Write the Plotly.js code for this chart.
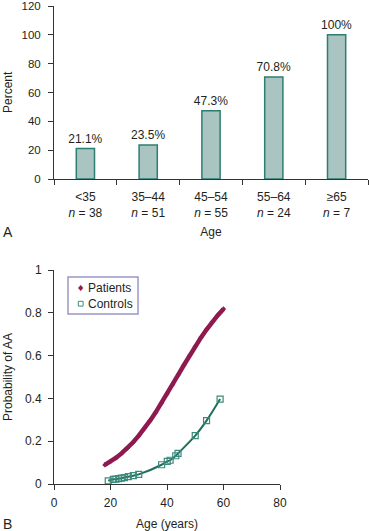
<!DOCTYPE html>
<html>
<head>
<meta charset="utf-8">
<script src="https://cdn.plot.ly/plotly-3.0.1.min.js"></script>
<style>html,body{margin:0;padding:0;background:#fff;}#chart{width:369px;height:531px;}</style>
</head>
<body>
<div id="chart"></div>
<script>
// Panel A: percent by age group
const ageGroups = ["<35", "35–44", "45–54", "55–64", "≥65"];
const groupN = [38, 51, 55, 24, 7];
const percentValues = [21.1, 23.5, 47.3, 70.8, 100];
const percentLabels = ["21.1%", "23.5%", "47.3%", "70.8%", "100%"];
const percentTicks = [0, 20, 40, 60, 80, 100, 120];

// Panel B: probability of AA by age
const patientAges = [18, 20, 22, 24, 26, 28, 30, 32, 34, 36, 38, 40, 42, 44, 46, 48, 50, 52, 54, 56, 58, 60];
const patientProb = [0.089, 0.105, 0.123, 0.144, 0.168, 0.195, 0.226, 0.259, 0.296, 0.335, 0.377, 0.420, 0.465, 0.511, 0.556, 0.601, 0.643, 0.684, 0.722, 0.757, 0.789, 0.818];
const controlAges = [19.2, 21.0, 21.9, 22.9, 23.8, 24.9, 26.3, 28.1, 30.0, 38.1, 40.1, 41.1, 43.1, 43.9, 50.0, 54.0, 58.8];
const controlProb = [0.015, 0.022, 0.023, 0.025, 0.027, 0.030, 0.034, 0.039, 0.045, 0.090, 0.106, 0.111, 0.132, 0.143, 0.226, 0.296, 0.397];
const legendNames = ["Patients", "Controls"];

const catLabels = ageGroups.map((g, i) => g + "<br><i>n</i> = " + groupN[i]);

const textColor = "#231f20";
const patientColor = "#8e1a4f";
const controlLine = "#1f6e5e";
const controlMarker = "#3c8a7c";
const font = {family: "Liberation Sans, Arial, sans-serif", size: 12, color: textColor};
const smallFont = {family: font.family, size: 11.5, color: textColor};

const traces = [
  {
    type: "bar", x: catLabels, y: percentValues, text: percentLabels,
    textposition: "outside", cliponaxis: false, constraintext: "none",
    textfont: {family: font.family, size: 12, color: textColor},
    marker: {color: "#a9c4c1", line: {color: "#2e7d72", width: 1.5}},
    width: 0.29, xaxis: "x", yaxis: "y", showlegend: false, hoverinfo: "skip"
  },
  {
    type: "scatter", mode: "lines+markers", name: legendNames[0], x: patientAges, y: patientProb,
    line: {color: patientColor, width: 4.5},
    marker: {symbol: "diamond", size: 4, color: patientColor},
    xaxis: "x2", yaxis: "y2", showlegend: false
  },
  {
    type: "scatter", mode: "lines+markers", name: legendNames[1], x: controlAges, y: controlProb,
    line: {color: controlLine, width: 2, shape: "spline"},
    marker: {symbol: "square-open", size: 6, color: controlMarker, line: {width: 1.2}},
    xaxis: "x2", yaxis: "y2", showlegend: false
  }
];

const W = 369, H = 531;
const px = v => v / W, py = v => 1 - v / H;

const axisCommon = {
  tickcolor: "#333", showline: true, linecolor: "#333", linewidth: 1,
  showgrid: false, zeroline: false
};

const layout = {
  width: W, height: H,
  margin: {l: 0, r: 0, t: 0, b: 0},
  paper_bgcolor: "#fff", plot_bgcolor: "#fff",
  font: font,
  showlegend: false,
  xaxis: Object.assign({}, axisCommon, {
    domain: [px(54), px(368)], anchor: "y",
    type: "category", tickson: "boundaries", ticks: "outside", ticklen: 5,
    tickfont: font, ticklabelstandoff: 7,
    title: {text: "Age", font: font, standoff: 8}
  }),
  yaxis: Object.assign({}, axisCommon, {
    domain: [py(179), py(6)], anchor: "x",
    range: [0, 120], tickvals: percentTicks, ticks: "outside", ticklen: 5,
    tickfont: smallFont, ticklabeloverflow: "allow", ticklabelstandoff: 5
  }),
  xaxis2: Object.assign({}, axisCommon, {
    domain: [px(54), px(280)], anchor: "y2",
    range: [0, 80], dtick: 20, ticks: "outside", ticklen: 5,
    tickfont: font, ticklabelstandoff: 3,
    title: {text: "Age (years)", font: font, standoff: 10}
  }),
  yaxis2: Object.assign({}, axisCommon, {
    domain: [py(484), py(270)], anchor: "x2",
    range: [0, 1], dtick: 0.2, ticks: "outside", ticklen: 5,
    tickfont: font, ticklabelstandoff: 4
  }),
  shapes: [
    {type: "rect", xref: "paper", yref: "paper", x0: px(68), x1: px(138), y0: py(277), y1: py(314),
     line: {color: "#9a96c8", width: 1.5}, fillcolor: "#fff", layer: "above"},
    {type: "path", xref: "paper", yref: "paper",
     path: `M ${px(80.7)} ${py(285.2)} L ${px(83)} ${py(288)} L ${px(80.7)} ${py(290.8)} L ${px(78.4)} ${py(288)} Z`,
     fillcolor: patientColor, line: {color: patientColor, width: 0.5}, layer: "above"},
    {type: "rect", xref: "paper", yref: "paper", x0: px(78.3), x1: px(83.1), y0: py(301.3), y1: py(306.1),
     fillcolor: "#fff", line: {color: controlMarker, width: 1}, layer: "above"}
  ],
  annotations: [
    {text: "Percent", xref: "paper", yref: "paper", x: px(7.5), y: py(92.5), textangle: -90, xanchor: "center", yanchor: "middle", showarrow: false, font: font},
    {text: "Probability of AA", xref: "paper", yref: "paper", x: px(7.5), y: py(377.5), textangle: -90, xanchor: "center", yanchor: "middle", showarrow: false, font: font},
    {text: legendNames[0], xref: "paper", yref: "paper", x: px(85.5), y: py(288), xanchor: "left", yanchor: "middle", showarrow: false, font: font},
    {text: legendNames[1], xref: "paper", yref: "paper", x: px(85.5), y: py(303.7), xanchor: "left", yanchor: "middle", showarrow: false, font: font},
    {text: "A", xref: "paper", yref: "paper", x: px(1), y: py(232), xanchor: "left", yanchor: "middle", showarrow: false, font: {family: font.family, size: 14, color: textColor}},
    {text: "B", xref: "paper", yref: "paper", x: px(1), y: py(524), xanchor: "left", yanchor: "middle", showarrow: false, font: {family: font.family, size: 14, color: textColor}}
  ]
};

Plotly.newPlot("chart", traces, layout, {displayModeBar: false, staticPlot: true});
</script>
</body>
</html>
